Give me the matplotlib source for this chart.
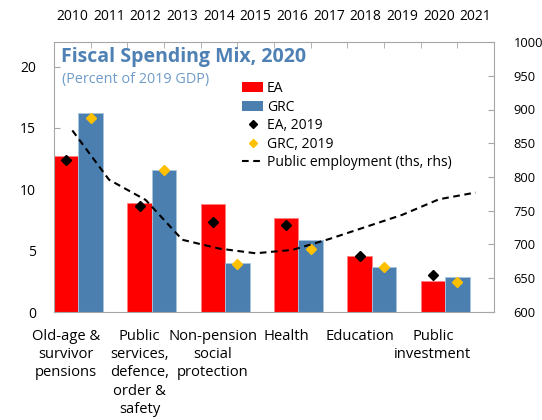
import matplotlib
matplotlib.use("Agg")
import matplotlib.pyplot as plt
import numpy as np
from matplotlib.patches import Patch
from matplotlib.lines import Line2D

# data
categories = [
    "Old-age &\nsurvivor\npensions",
    "Public\nservices,\ndefence,\norder &\nsafety",
    "Non-pension\nsocial\nprotection",
    "Health",
    "Education",
    "Public\ninvestment",
]
ea_2020 = [12.7, 8.9, 8.8, 7.7, 4.6, 2.55]
grc_2020 = [16.25, 11.6, 4.0, 5.9, 3.65, 2.85]
ea_2019 = [12.4, 8.65, 7.35, 7.05, 4.55, 3.0]
grc_2019 = [15.8, 11.6, 3.95, 5.15, 3.65, 2.45]

years = [2010, 2011, 2012, 2013, 2014, 2015, 2016, 2017, 2018, 2019, 2020, 2021]
public_employment = [869, 796, 766, 707, 694, 687, 692, 708, 726, 744, 767, 777]

RED = "#ff0000"
BLUE = "#4a7fb0"
GOLD = "#ffc000"
TITLE_BLUE = "#4f81b4"
SUB_BLUE = "#6f9bc8"
SPINE = "#a6a6a6"
DASH = (0, (3.2, 2.2))

plt.rcParams["font.family"] = ["Open Sans", "DejaVu Sans"]

fig = plt.figure(figsize=(5.42, 4.2), dpi=100)
pos = [54 / 542, 1 - 312 / 420, 440 / 542, 270 / 420]
ax = fig.add_axes(pos)

n = len(categories)
x = np.arange(n)
w = 1 / 3
ax.bar(x, ea_2020, width=w, align="edge", color=RED, edgecolor="#ff8080", linewidth=0.6, zorder=2)
ax.bar(x + w, grc_2020, width=w, align="edge", color=BLUE, edgecolor="#a9c4dd", linewidth=0.6, zorder=2)
ax.plot(x + w / 2, ea_2019, linestyle="none", marker="D", ms=5, color="black", zorder=4)
ax.plot(x + 1.5 * w, grc_2019, linestyle="none", marker="D", ms=5, color=GOLD, zorder=4)

ax.set_xlim(0, n)
ax.set_ylim(0, 22)
ax.set_yticks([0, 5, 10, 15, 20])
ax.set_xticks(x + w / 2)
ax.set_xticklabels(categories, fontsize=10.6, linespacing=1.3)
ax.tick_params(axis="x", length=0, pad=12)
ax.tick_params(axis="y", direction="in", length=4, color=SPINE, labelsize=10, pad=13)
for s in ax.spines.values():
    s.set_color(SPINE)

# line on its own axes (years on top, rhs scale)
ax2 = fig.add_axes(pos, facecolor="none")
yx = np.arange(len(years)) + 0.5
ax2.plot(yx, public_employment, color="black", linestyle=DASH, linewidth=1.5, zorder=3)
ax2.set_xlim(0, len(years))
ax2.set_ylim(600, 1000)
ax2.xaxis.tick_top()
ax2.yaxis.tick_right()
ax2.set_xticks(yx)
ax2.set_xticklabels([str(y) for y in years], fontsize=10)
ax2.set_xticks(np.arange(1, len(years)), minor=True)
ax2.tick_params(axis="x", which="major", length=0, pad=13)
ax2.tick_params(axis="x", which="minor", direction="in", length=4, color=SPINE)
ax2.set_yticks(np.arange(600, 1001, 50))
ax2.tick_params(axis="y", direction="in", length=4, color=SPINE, labelsize=9.3, pad=14)
for s in ax2.spines.values():
    s.set_visible(False)

fig.text(61 / 542, 1 - 57 / 420, "Fiscal Spending Mix, 2020", fontsize=14, fontweight="bold",
         color=TITLE_BLUE, va="center", ha="left")
fig.text(62 / 542, 1 - 79 / 420, "(Percent of 2019 GDP)", fontsize=10.4,
         color=SUB_BLUE, va="center", ha="left")

handles = [
    Patch(facecolor=RED, edgecolor="none"),
    Patch(facecolor=BLUE, edgecolor="none"),
    Line2D([], [], linestyle="none", marker="D", ms=4, color="black"),
    Line2D([], [], linestyle="none", marker="D", ms=4, color=GOLD),
    Line2D([], [], color="black", linestyle=DASH, linewidth=1.5),
]
labels = ["EA", "GRC", "EA, 2019", "GRC, 2019", "Public employment (ths, rhs)"]
ax2.legend(handles, labels, loc="upper left", bbox_to_anchor=(0.427, 0.855), frameon=False,
           fontsize=10, handlelength=1.55, handleheight=0.7, handletextpad=0.25,
           labelspacing=0.25, borderpad=0, borderaxespad=0)

fig.savefig("out.png", dpi=100)
